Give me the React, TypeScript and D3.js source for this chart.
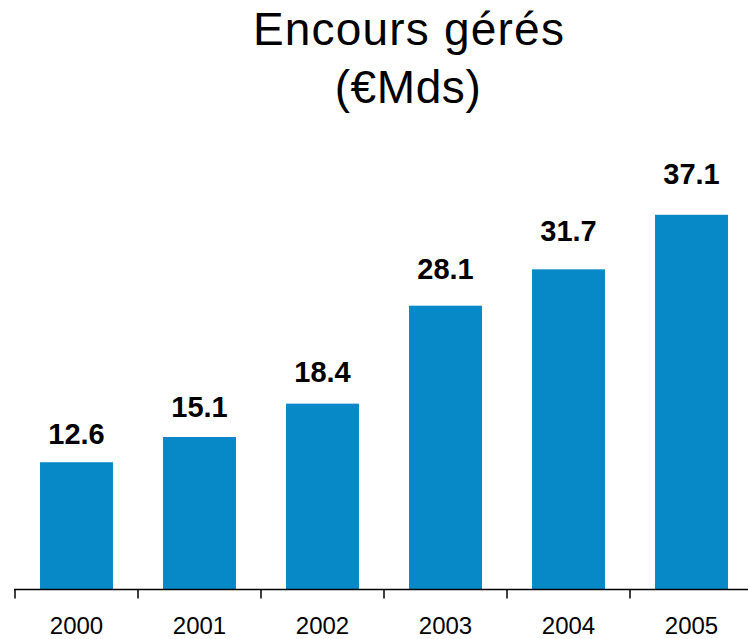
import React from "react";
import * as d3 from "d3";

const years = ["2000", "2001", "2002", "2003", "2004", "2005"];
const values = [12.6, 15.1, 18.4, 28.1, 31.7, 37.1];
const valueLabels = ["12.6", "15.1", "18.4", "28.1", "31.7", "37.1"];
const titleLine1 = "Encours gérés";
const titleLine2 = "(€Mds)";

const W = 748;
const H = 639;
const FONT = "'Liberation Sans', Arial, sans-serif";
const BAR = "#0689c6";

export default function App() {
  const x = d3.scaleBand<string>().domain(years).range([15, 753]).paddingInner(0.407).paddingOuter(0.2035);
  const step = x.step();
  const baseY = 589.5;
  const y = d3.scaleLinear().domain([0, 40]).range([baseY, baseY - 404]);
  const labelY = (v: number) => y(v * 1.05) - 12;

  const tickXs = years.map((_, i) => 15 + i * step).concat([15 + years.length * step]);

  return (
    <svg
      width={W}
      height={H}
      viewBox={`0 0 ${W} ${H}`}
      style={{ position: "absolute", left: 0, top: 0, background: "#fff" }}
      fontFamily={FONT}
    >
      <text x={409} y={45} textAnchor="middle" fontSize={46} letterSpacing={1.2} fill="#000">
        {titleLine1}
      </text>
      <text x={408} y={103} textAnchor="middle" fontSize={46} letterSpacing={0.6} fill="#000">
        {titleLine2}
      </text>

      {years.map((yr, i) => (
        <rect
          key={yr}
          x={x(yr)!}
          y={y(values[i])}
          width={x.bandwidth()}
          height={baseY - y(values[i])}
          fill={BAR}
        />
      ))}

      {years.map((yr, i) => (
        <text
          key={"l" + yr}
          x={x(yr)! + x.bandwidth() / 2}
          y={labelY(values[i])}
          textAnchor="middle"
          fontSize={29}
          fontWeight="bold"
          fill="#000"
        >
          {valueLabels[i]}
        </text>
      ))}

      <line x1={14} x2={W} y1={baseY} y2={baseY} stroke="#000" strokeWidth={1.5} />
      {tickXs.map((tx, i) => (
        <line key={"t" + i} x1={tx} x2={tx} y1={baseY} y2={baseY + 9} stroke="#000" strokeWidth={1.5} />
      ))}

      {years.map((yr) => (
        <text
          key={"y" + yr}
          x={x(yr)! + x.bandwidth() / 2}
          y={634}
          textAnchor="middle"
          fontSize={24}
          fill="#000"
        >
          {yr}
        </text>
      ))}
    </svg>
  );
}
